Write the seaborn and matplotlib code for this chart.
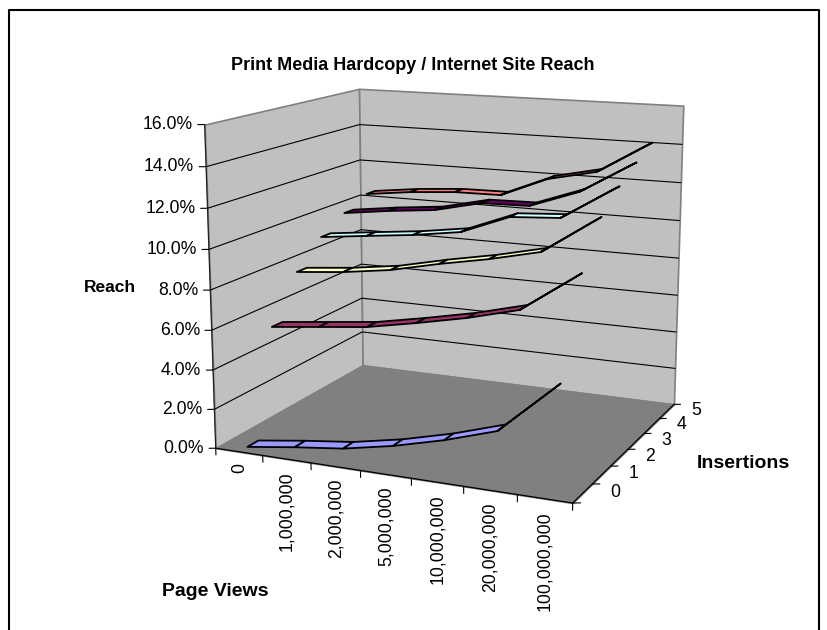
import matplotlib
matplotlib.use("Agg")
import matplotlib.pyplot as plt
import seaborn as sns
import pandas as pd
from mpl_toolkits.mplot3d import proj3d
from mpl_toolkits.mplot3d.art3d import Poly3DCollection

# Dados
page_views = ["0", "1,000,000", "2,000,000", "5,000,000", "10,000,000", "20,000,000", "100,000,000"]
insertions = [0, 1, 2, 3, 4, 5]
reach_0 = [0.0, 0.35, 0.65, 1.15, 1.8, 2.6, 4.9]
reach_1 = [5.47, 5.75, 6.03, 6.51, 7.04, 7.7, 9.48]
reach_2 = [7.73, 7.97, 8.32, 8.87, 9.35, 9.93, 11.65]
reach_3 = [9.05, 9.33, 9.6, 9.97, 10.95, 11.11, 12.7]
reach_4 = [9.86, 10.18, 10.43, 11.0, 11.05, 11.96, 13.48]
reach_5 = [10.46, 10.76, 10.95, 10.98, 12.03, 12.58, 14.12]
reach_ticks = [0, 2, 4, 6, 8, 10, 12, 14, 16]
series_colors = ["#9999FF", "#993366", "#FFFFCC", "#CCFFFF", "#660066", "#FF8080"]

df = pd.DataFrame([reach_0, reach_1, reach_2, reach_3, reach_4, reach_5], index=insertions, columns=page_views)

sns.set_theme(style="white")
plt.rcParams["font.family"] = ["Liberation Sans", "DejaVu Sans"]
palette = sns.color_palette(series_colors)

fig = plt.figure(figsize=(8.28, 6.3), dpi=100)
ax = fig.add_axes([29.08 / 828, -0.157 + 30.4 / 630, 1, 1.314], projection="3d", computed_zorder=False)
ax.set_axis_off()
ax.view_init(elev=12.955, azim=-66.2626)
ax.set_proj_type("persp", focal_length=0.3678)
ax.set_box_aspect((383.0077, 328.9863, 329.3338), zoom=0.684)
nx, ny, zmax = len(page_views), len(insertions), reach_ticks[-1]
ax.set_xlim(0, nx, view_margin=0)
ax.set_ylim(0, ny, view_margin=0)
ax.set_zlim(0, zmax, view_margin=0)
M = ax.get_proj()


# Texto no ponto projetado: o text do 3D ignora a rotacao
def label_3d(x, y, z, s, **kw):
    xs, ys, _ = proj3d.proj_transform(x, y, z, M)
    ax.text2D(xs, ys, s, transform=ax.transData, fontsize=12.7, color="black", **kw)


# Paredes e piso
walls = [
    ([(0, 0, 0), (0, ny, 0), (0, ny, zmax), (0, 0, zmax)], "#C0C0C0"),
    ([(0, ny, 0), (nx, ny, 0), (nx, ny, zmax), (0, ny, zmax)], "#C0C0C0"),
    ([(0, 0, 0), (nx, 0, 0), (nx, ny, 0), (0, ny, 0)], "#808080"),
]
for verts, col in walls:
    ax.add_collection3d(Poly3DCollection([verts], facecolors=col, edgecolors="#808080", linewidths=1.2, zorder=1, shade=False))

# Grade
for t in reach_ticks[1:-1]:
    ax.plot([0, 0, nx], [0, ny, ny], [t, t, t], color="black", lw=0.8, zorder=2)

# Eixos
ax.plot([0, 0], [0, 0], [0, zmax], color="#222222", lw=0.9, zorder=3)
ax.plot([0, nx, nx], [0, 0, ny], [0, 0, 0], color="black", lw=0.9, zorder=3)
for t in reach_ticks:
    ax.plot([0, -0.11], [0, -0.055], [t, t], color="black", lw=0.8, zorder=3)
    label_3d(-0.19, -0.095, t, f"{t:.1f}%", ha="right", va="center")
for i in range(nx + 1):
    ax.plot([i, i], [0, 0], [0, -0.35], color="black", lw=0.8, zorder=3)
for i, lab in enumerate(page_views):
    label_3d(i + 0.5, 0, -0.6, lab, rotation=90, ha="center", va="top")
for i in range(ny + 1):
    ax.plot([nx, nx + 0.12], [i, i + 0.06], [0, 0], color="black", lw=0.8, zorder=3)
for i, lab in enumerate(insertions):
    label_3d(nx + 0.42, i + 0.75, 0, str(lab), ha="left", va="center")

# Fitas, da serie de tras para a da frente
for k in reversed(range(ny)):
    vals = df.iloc[k].to_numpy()
    y0, y1 = k + 0.3, k + 0.7
    quads = []
    for j in range(nx - 1):
        quads.append([(j + 0.5, y0, vals[j]), (j + 1.5, y0, vals[j + 1]), (j + 1.5, y1, vals[j + 1]), (j + 0.5, y1, vals[j])])
    ax.add_collection3d(Poly3DCollection(quads, facecolors=palette[k], edgecolors="black", linewidths=1.3, zorder=10 + ny - k, shade=False))

fig.text(413 / 828, 1 - 65 / 630, "Print Media Hardcopy / Internet Site Reach", ha="center", va="center", fontsize=13, fontweight="bold", color="black")
fig.text(110 / 828, 1 - 288 / 630, "Reach", ha="center", va="center", fontsize=12.5, fontweight="bold", color="black")
fig.text(743 / 828, 1 - 463 / 630, "Insertions", ha="center", va="center", fontsize=14, fontweight="bold", color="black")
fig.text(215 / 828, 1 - 591 / 630, "Page Views", ha="center", va="center", fontsize=14, fontweight="bold", color="black")

# Moldura (a borda de baixo fica fora do recorte)
fig.add_artist(plt.Line2D([9 / 828, 9 / 828, 819 / 828, 819 / 828], [0, 1 - 10 / 630, 1 - 10 / 630, 0], color="black", lw=1.5))

fig.savefig("out.png", dpi=100)
